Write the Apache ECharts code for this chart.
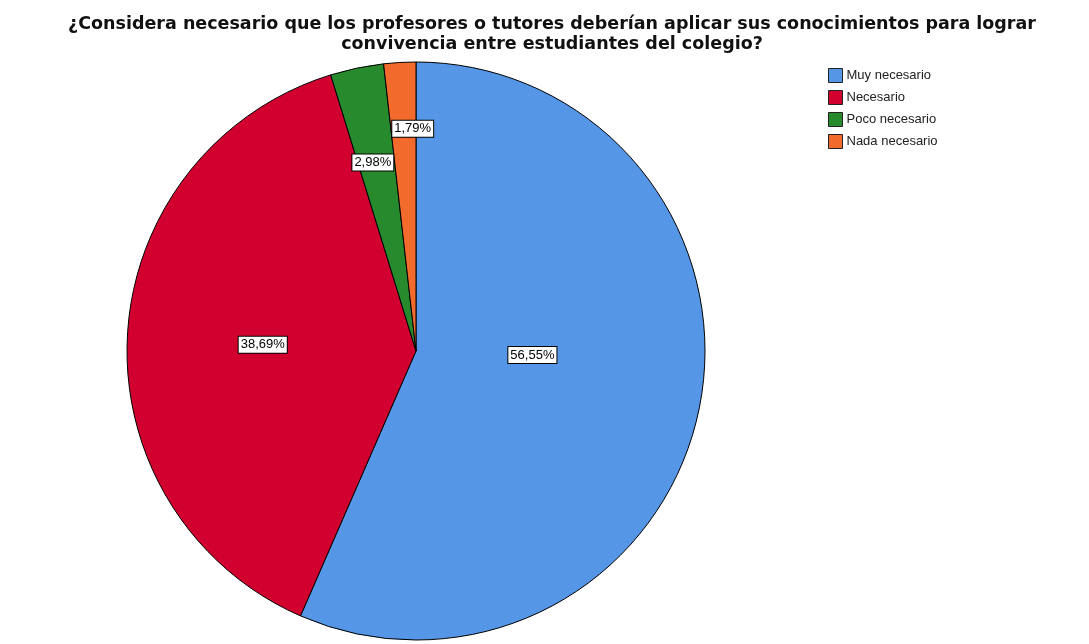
<!DOCTYPE html>
<html>
<head>
<meta charset="utf-8">
<script src="https://cdn.jsdelivr.net/npm/echarts@6/dist/echarts.min.js"></script>
<style>
  html, body { margin: 0; padding: 0; background: #fff; }
  #chart { width: 1089px; height: 644px; }
</style>
</head>
<body>
<div id="chart"></div>
<script>
// datos del gráfico
const categorias = ['Muy necesario', 'Necesario', 'Poco necesario', 'Nada necesario']
const porcentajes = [56.55, 38.69, 2.98, 1.79]
const colores = ['#5596E6', '#D2002E', '#278A2C', '#F26B2D']

// ajuste de posición de etiquetas (estilo SPSS)
const desplaz = [[-28, -26], [-6, 2], [-13, -44], [5, -75]]

const chart = echarts.init(document.getElementById('chart'))

const option = {
  backgroundColor: '#ffffff',
  color: colores,
  title: {
    text: '¿Considera necesario que los profesores o tutores deberían aplicar sus conocimientos para lograr\nconvivencia entre estudiantes del colegio?',
    left: 547,
    textAlign: 'center',
    top: 9,
    textStyle: {
      fontFamily: 'DejaVu Sans, sans-serif',
      fontSize: 17.5,
      fontWeight: 'bold',
      color: '#111',
      lineHeight: 20
    }
  },
  legend: {
    orient: 'vertical',
    left: 823,
    top: 63,
    itemWidth: 14,
    itemHeight: 14,
    itemGap: 7,
    icon: 'rect',
    data: categorias,
    itemStyle: { borderColor: '#222', borderWidth: 1 },
    textStyle: {
      fontFamily: 'Liberation Sans, Arial, sans-serif',
      fontSize: 13,
      color: '#222',
      padding: [0, 0, 0, -1]
    }
  },
  series: [{
    type: 'pie',
    center: [416, 351],
    radius: 289,
    startAngle: 90,
    clockwise: true,
    animation: false,
    silent: true,
    itemStyle: { borderColor: '#000', borderWidth: 1 },
    label: {
      show: true,
      position: 'inside',
      formatter: p => p.value.toFixed(2).replace('.', ',') + '%',
      fontFamily: 'Liberation Sans, Arial, sans-serif',
      fontSize: 13,
      color: '#000',
      backgroundColor: '#fff',
      borderColor: '#000',
      borderWidth: 1,
      padding: [2, 2, 1, 2]
    },
    labelLine: { show: false },
    data: categorias.map((c, i) => ({
      name: c,
      value: porcentajes[i],
      label: { offset: desplaz[i] }
    }))
  }]
}
chart.setOption(option)
</script>
</body>
</html>
